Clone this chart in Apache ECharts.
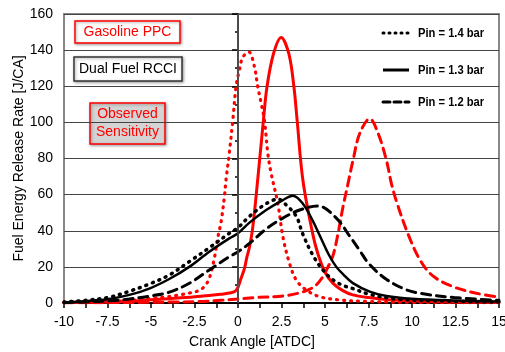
<!DOCTYPE html>
<html>
<head>
<meta charset="utf-8">
<script src="https://cdn.jsdelivr.net/npm/echarts@6/dist/echarts.min.js"></script>
<style>
  html, body { margin: 0; padding: 0; background: #fff; }
  #chart { width: 505px; height: 352px; }
</style>
</head>
<body>
<div id="chart"></div>
<script>
// crank angle ticks and heat release values
const xTicks = [-10, -7.5, -5, -2.5, 0, 2.5, 5, 7.5, 10, 12.5, 15];
const yTicks = [0, 20, 40, 60, 80, 100, 120, 140, 160];

// Gasoline PPC (red)
const ppc14 = [[-10, 0.2], [-8, 0.5], [-6, 1.5], [-5, 2.5], [-4, 3.5], [-3.4, 4.4], [-2.8, 5.5], [-2.22, 7], [-1.9, 9.5], [-1.65, 13.7], [-1.36, 24.7], [-1.17, 35.8], [-0.97, 45], [-0.78, 59], [-0.69, 68], [-0.5, 83], [-0.3, 101], [-0.11, 120], [0.08, 129], [0.27, 136], [0.62, 139], [0.94, 131], [1.13, 120], [1.33, 110.6], [1.52, 101], [1.71, 83], [1.9, 72], [2.29, 55], [2.58, 36.7], [2.96, 22], [3.35, 12.7], [3.92, 7.2], [4.69, 3.5], [5.84, 1.7], [7.5, 0.8], [10, 0.4], [15, 0.2]];
const ppc13 = [[-10, 0.3], [-8, 0.5], [-6.5, 0.8], [-5, 1.8], [-4, 2.4], [-3, 3], [-2, 3.9], [-1, 4.8], [-0.5, 5.5], [-0.1, 7], [0.18, 13.8], [0.37, 19], [0.5, 25], [0.66, 31], [0.85, 42], [1.13, 68], [1.46, 101], [1.67, 120], [2.04, 138], [2.48, 147], [2.92, 138], [3.21, 120], [3.4, 101], [3.73, 68], [4.3, 38], [4.6, 27], [5, 17], [5.45, 11], [6, 7], [6.6, 4.5], [7.5, 3], [8.5, 2], [10, 1.2], [12, 0.6], [15, 0.3]];
const ppc12 = [[-10, 0.1], [-6, 0.3], [-4, 0.5], [-2.2, 0.8], [-1, 1.5], [0, 2.2], [1, 3], [2.58, 3.9], [3.5, 5.5], [4.1, 7.5], [4.5, 10], [4.88, 14.6], [5.07, 18], [5.45, 26], [5.74, 38], [6.03, 53], [6.32, 66], [6.61, 79], [7, 94], [7.57, 102], [8.05, 94], [8.53, 79], [8.82, 66], [9.15, 55], [9.78, 38], [10.45, 24], [11.2, 15], [12.37, 9], [13.7, 5.4], [15, 3.2]];

// Dual Fuel RCCI (black)
const rcci14 = [[-10, 0.5], [-8.75, 1.5], [-7.4, 3.2], [-6.25, 6.5], [-5.1, 10.5], [-3.95, 15.5], [-2.8, 22.9], [-1.65, 30.6], [-0.5, 38.6], [0, 41.7], [0.66, 48], [1.62, 55], [2.3, 57.5], [2.8, 54], [3.35, 48], [3.73, 38], [4.3, 26.5], [4.9, 18], [5.5, 12.5], [6.1, 9.5], [6.6, 8], [7.57, 4.8], [9.1, 2.2], [12, 1], [15, 0.5]];
const rcci13 = [[-10, 0.3], [-8.75, 1], [-7.4, 2.2], [-6.25, 4.5], [-5.1, 8], [-3.95, 13.3], [-2.8, 20], [-1.65, 28.4], [-0.5, 35.8], [0, 38.6], [0.66, 44.5], [1.62, 51.5], [2.58, 57], [3.15, 59.4], [3.73, 55], [4.3, 45.5], [4.69, 37.5], [5.26, 26], [5.65, 20], [6.03, 16], [6.6, 11], [7.57, 6.3], [8.53, 3.9], [10, 2.4], [12.4, 1.4], [15, 0.8]];
const rcci12 = [[-10, 0.2], [-8.75, 0.6], [-7.4, 1.2], [-6.25, 2.2], [-5.1, 3.8], [-3.95, 6], [-2.8, 10.9], [-1.65, 18.3], [-0.5, 25.6], [0, 28.4], [0.66, 33], [1.62, 41], [2.58, 47], [3.54, 51.5], [4.6, 53.7], [5.65, 47], [6.42, 37], [7, 29], [7.5, 22], [8.4, 14], [9.5, 8], [10.45, 5.4], [12.4, 3], [15, 1.5]];

const legendNames = ['Pin = 1.4 bar', 'Pin = 1.3 bar', 'Pin = 1.2 bar'];

const RED = '#ff0000';
const FONT = '"Liberation Sans", Arial, sans-serif';
const DOTTED = [1, 6];
const DASHED = [9, 6];

function curve(name, data, color, type, width) {
  return {
    name: name,
    type: 'line',
    data: data,
    smooth: 0.35,
    symbol: 'none',
    silent: true,
    lineStyle: { color: color, width: width, type: type, cap: 'round' },
    itemStyle: { color: color },
  };
}

const chart = echarts.init(document.getElementById('chart'));

const series = [
  curve('ppc14', ppc14, RED, DOTTED, 3.2),
  curve('ppc13', ppc13, RED, 'solid', 3),
  curve('ppc12', ppc12, RED, DASHED, 3),
  curve('rcci14', rcci14, '#000', DOTTED, 3.5),
  curve('rcci13', rcci13, '#000', 'solid', 2.5),
  curve('rcci12', rcci12, '#000', DASHED, 3),
];

// vertical reference line at TDC
series[1].markLine = {
  silent: true,
  symbol: ['none', 'none'],
  label: { show: false },
  lineStyle: { color: '#555', width: 1.5, type: 'solid' },
  data: [{ xAxis: 0 }],
};

function box(x, y, w, h, text, color, fill, border) {
  return {
    type: 'group',
    children: [
      {
        type: 'rect',
        shape: { x: x, y: y, width: w, height: h },
        style: { fill: fill, stroke: border, lineWidth: 1.5, shadowBlur: 3, shadowColor: 'rgba(0,0,0,0.35)', shadowOffsetX: 1, shadowOffsetY: 1 },
      },
      {
        type: 'text',
        x: x + w / 2,
        y: y + h / 2,
        style: { text: text, fill: color, font: '14px ' + FONT, align: 'center', verticalAlign: 'middle', lineHeight: 18 },
      },
    ],
  };
}

// legend rows drawn by hand so the line styles match
function legendRow(y, label, dash, width) {
  return {
    type: 'group',
    children: [
      {
        type: 'line',
        shape: { x1: 383, y1: y, x2: 409, y2: y },
        style: { stroke: '#000', lineWidth: width, lineDash: dash, lineCap: dash ? 'round' : 'butt' },
      },
      {
        type: 'text',
        x: 418,
        y: y,
        scaleX: 0.86,
        style: { text: label, fill: '#000', font: 'bold 13px ' + FONT, align: 'left', verticalAlign: 'middle' },
      },
    ],
  };
}

chart.setOption({
  backgroundColor: '#fff',
  animation: false,
  grid: { left: 64, right: 6, top: 14, bottom: 49, outerBoundsMode: 'none', containLabel: false, show: true, borderColor: '#888', borderWidth: 2 },
  xAxis: {
    type: 'value',
    min: xTicks[0],
    max: xTicks[xTicks.length - 1],
    interval: 2.5,
    axisLine: { lineStyle: { color: '#000', width: 2 } },
    axisTick: { show: true, length: 5, lineStyle: { color: '#000', width: 1.5 } },
    minorTick: { show: true, splitNumber: 2, length: 5, lineStyle: { color: '#000', width: 1.5 } },
    axisLabel: { color: '#000', fontSize: 14, fontFamily: FONT, margin: 12, showMaxLabel: true, hideOverlap: false },
    splitLine: { show: false },
  },
  yAxis: {
    type: 'value',
    min: yTicks[0],
    max: yTicks[yTicks.length - 1],
    interval: 20,
    name: 'Fuel Energy Release Rate [J/CA]',
    nameLocation: 'middle',
    nameGap: 38,
    nameMoveOverlap: false,
    nameTextStyle: { color: '#000', fontSize: 14, fontFamily: FONT },
    axisLine: { show: true, lineStyle: { color: '#333', width: 2 } },
    axisTick: { show: true, length: 6, lineStyle: { color: '#000', width: 1.5 } },
    minorTick: { show: true, splitNumber: 2, length: 3, lineStyle: { color: '#000', width: 1.5 } },
    axisLabel: { color: '#000', fontSize: 14, fontFamily: FONT, margin: 11 },
    splitLine: { show: true, lineStyle: { color: '#444', width: 1.2 } },
  },
  graphic: [
    box(75, 21, 105, 22, 'Gasoline PPC', RED, '#fff', RED),
    box(74, 57, 108, 24, 'Dual Fuel RCCI', '#000', '#fff', '#333'),
    box(90, 103, 75, 41, 'Observed\nSensitivity', RED, '#d4d4d4', RED),
    legendRow(33, legendNames[0], [1, 5], 3),
    legendRow(70, legendNames[1], null, 3),
    legendRow(102, legendNames[2], [7, 4], 3),
    {
      type: 'text',
      x: 252,
      y: 342,
      style: { text: 'Crank Angle [ATDC]', fill: '#000', font: '14px ' + FONT, align: 'center', verticalAlign: 'middle' },
    },
  ],
  series: series,
});
</script>
</body>
</html>
